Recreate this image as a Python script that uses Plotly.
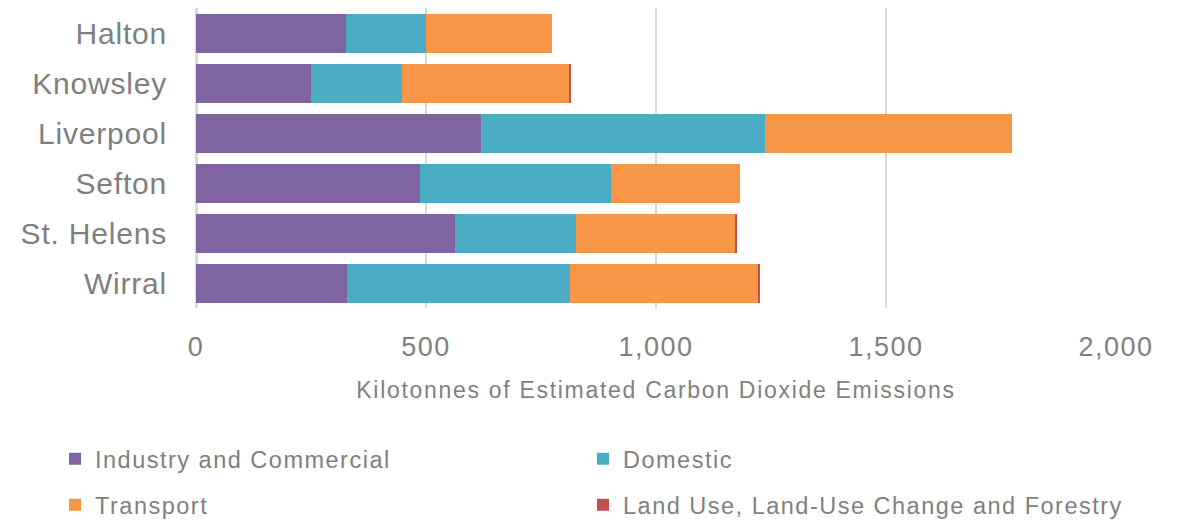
import plotly.graph_objects as go

# Local authority areas (top to bottom)
areas = ["Halton", "Knowsley", "Liverpool", "Sefton", "St. Helens", "Wirral"]

# Estimated CO2 emissions by sector, kilotonnes
industry_commercial = [325, 251, 620, 486, 564, 329]
domestic = [174, 196, 618, 417, 261, 483]
transport = [274, 365, 535, 279, 348, 409]
land_use = [0, 4, 0, 0, 4, 6]

sector_names = [
    "Industry and Commercial",
    "Domestic",
    "Transport",
    "Land Use, Land-Use Change and Forestry",
]
sector_values = [industry_commercial, domestic, transport, land_use]
sector_colors = ["#8064a2", "#4bacc6", "#f79646", "#c0504d"]

# one legend box per entry, laid out as a 2x2 grid under the axis
legend_ids = ["legend", "legend2", "legend3", "legend4"]
legend_x_px = [55, 583, 55, 583]
legend_y_px = [459, 459, 505, 505]

x_ticks = [0, 500, 1000, 1500, 2000]
x_tick_text = ["0", "500", "1,000", "1,500", "2,000"]

GREY = "#7f7f7f"
FONT = "Arial"
W, H = 1190, 522


def spaced(text, px):
    return f'<span style="letter-spacing:{px}px">{text}</span>'


fig = go.Figure()
for name, vals, color, lg in zip(sector_names, sector_values, sector_colors, legend_ids):
    fig.add_trace(
        go.Bar(
            y=areas,
            x=vals,
            name=spaced(name, 1.5),
            orientation="h",
            marker=dict(color=color, line=dict(width=0)),
            legend=lg,
        )
    )

legends = {}
for lg, lx, ly in zip(legend_ids, legend_x_px, legend_y_px):
    legends[lg] = dict(
        orientation="h",
        xref="container",
        yref="container",
        x=lx / W,
        y=1 - ly / H,
        xanchor="left",
        yanchor="middle",
        font=dict(family=FONT, size=23.5, color=GREY),
        bgcolor="rgba(0,0,0,0)",
        itemclick=False,
    )

fig.update_layout(
    width=W,
    height=H,
    margin=dict(l=196, r=74, t=8, b=214),
    paper_bgcolor="white",
    plot_bgcolor="white",
    barmode="stack",
    bargap=0.22,
    font=dict(family=FONT, color=GREY),
    showlegend=True,
    **legends,
    xaxis=dict(
        range=[0, 2000],
        tickvals=x_ticks,
        ticktext=[spaced(t, 1.5) for t in x_tick_text],
        tickfont=dict(family=FONT, size=27, color=GREY),
        showgrid=True,
        gridcolor="#d9d9d9",
        gridwidth=2,
        zeroline=True,
        zerolinecolor="#d9d9d9",
        zerolinewidth=3,
        showline=False,
        ticks="",
        ticklabelstandoff=20,
        title=dict(
            text=spaced("Kilotonnes of Estimated Carbon Dioxide Emissions", 1.7),
            font=dict(family=FONT, size=23, color=GREY),
            standoff=20,
        ),
    ),
    yaxis=dict(
        categoryorder="array",
        categoryarray=areas,
        autorange="reversed",
        tickvals=areas,
        ticktext=[spaced(a, 0.8) for a in areas],
        tickfont=dict(family=FONT, size=30, color=GREY),
        showgrid=False,
        zeroline=False,
        showline=False,
        ticks="",
        ticklabelstandoff=28,
    ),
)

fig.write_html("out.html")
